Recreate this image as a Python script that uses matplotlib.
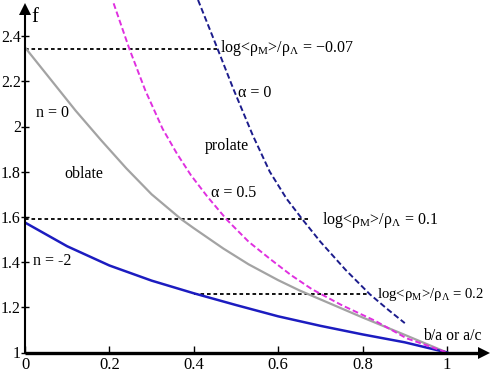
import matplotlib
matplotlib.use("Agg")
import matplotlib.pyplot as plt
from matplotlib.ticker import FuncFormatter, FixedLocator

plt.rcParams['font.family'] = ['Liberation Serif', 'DejaVu Serif']
plt.rcParams['mathtext.fontset'] = 'custom'
plt.rcParams['mathtext.rm'] = 'Liberation Serif'
plt.rcParams['mathtext.it'] = 'Liberation Serif:italic'

# ---- data ----
n0_x = [0, 0.06, 0.12, 0.18, 0.24, 0.30, 0.37, 0.40, 0.47, 0.53, 0.60, 0.65, 0.70, 0.80, 0.90, 1.0]
n0_y = [2.35, 2.21, 2.07, 1.94, 1.815, 1.70, 1.59, 1.55, 1.46, 1.39, 1.32, 1.275, 1.235, 1.155, 1.078, 1.0]

nm2_x = [0, 0.1, 0.2, 0.3, 0.4, 0.5, 0.6, 0.7, 0.8, 0.9, 1.0]
nm2_y = [1.575, 1.47, 1.385, 1.318, 1.262, 1.21, 1.16, 1.118, 1.08, 1.045, 1.0]

a05_x = [0.21, 0.247, 0.285, 0.326, 0.36, 0.393, 0.432, 0.479, 0.53, 0.58, 0.63, 0.68, 0.75, 0.83, 0.904, 1.0]
a05_y = [2.545, 2.345, 2.16, 1.99, 1.88, 1.785, 1.69, 1.586, 1.49, 1.415, 1.343, 1.28, 1.21, 1.14, 1.063, 1.0]

a0_x = [0.41, 0.455, 0.494, 0.54, 0.58, 0.62, 0.657, 0.70, 0.76, 0.817, 0.86, 0.90]
a0_y = [2.56, 2.35, 2.165, 1.96, 1.80, 1.68, 1.59, 1.49, 1.365, 1.258, 1.19, 1.13]

# horizontal reference lines: (y, x_start, x_end)
ref_y = [2.345, 1.59, 1.258]
ref_x0 = [0.0, 0.0, 0.40]
ref_x1 = [0.456, 0.67, 0.817]
ref_labels = ['log<ρ$_{\\mathrm{M}}$>/ρ$_{\\mathrm{Λ}}$ = −0.07',
              'log<ρ$_{\\mathrm{M}}$>/ρ$_{\\mathrm{Λ}}$ = 0.1',
              'log<ρ$_{\\mathrm{M}}$>/ρ$_{\\mathrm{Λ}}$ = 0.2']

xticks = [0, 0.2, 0.4, 0.6, 0.8, 1]
yticks = [1, 1.2, 1.4, 1.6, 1.8, 2, 2.2, 2.4]

W, H = 491, 382
fig = plt.figure(figsize=(W / 100, H / 100), dpi=100)
x0px, y0px = 25, 29.5
ax = fig.add_axes([x0px / W, y0px / H, (490 - x0px) / W, (380 - y0px) / H])
ax.set_xlim(0, (490 - x0px) / 422)
ax.set_ylim(1, 1 + (380 - y0px) / 226)

for s in ax.spines.values():
    s.set_visible(False)

# axes with arrows
ax.plot([0, 1.085], [1, 1], color='black', lw=2.4, clip_on=False, zorder=5, solid_capstyle='butt')
ax.plot([1.088], [1], marker='>', ms=9, color='black', clip_on=False, zorder=6, mew=0)
ax.plot([0, 0], [1, 2.51], color='black', lw=1.5, clip_on=False, zorder=5)
ax.plot([0], [2.52], marker='^', ms=9, color='black', clip_on=False, zorder=6, mew=0)

# reference dotted lines
for y, a, b in zip(ref_y, ref_x0, ref_x1):
    ax.plot([a, b], [y, y], color='black', lw=1.3, linestyle=(0, (2, 1.6)), zorder=3)

# curves
ax.plot(n0_x, n0_y, color='#a3a3a3', lw=1.6, zorder=4)
ax.plot(nm2_x, nm2_y, color='#1c1cc0', lw=1.8, zorder=4)
ax.plot(a05_x, a05_y, color='#e030e0', lw=1.4, linestyle=(0, (3, 1.5)), zorder=4, clip_on=False)
ax.plot(a0_x, a0_y, color='#1c1c8c', lw=1.4, linestyle=(0, (3, 1.5)), zorder=4, clip_on=False)

# ticks
ax.xaxis.set_major_locator(FixedLocator(xticks))
ax.yaxis.set_major_locator(FixedLocator(yticks))
fmt = FuncFormatter(lambda v, p: '%g' % v)
ax.xaxis.set_major_formatter(fmt)
ax.yaxis.set_major_formatter(fmt)
ax.tick_params(axis='x', direction='in', length=5, width=1, pad=3, labelsize=12)
ax.tick_params(axis='y', direction='inout', length=6, width=1, pad=0, labelsize=11.5)

fs = 11.5
ax.text(0.015, 2.462, 'f', fontsize=15, va='baseline')
ax.text(0.027, 2.042, 'n = 0', fontsize=fs, va='baseline')
ax.text(0.093, 1.772, 'oblate', fontsize=fs, va='baseline')
ax.text(0.426, 1.896, 'prolate', fontsize=fs, va='baseline')
ax.text(0.505, 2.132, 'α = 0', fontsize=fs, va='baseline')
ax.text(0.441, 1.689, 'α = 0.5', fontsize=fs, va='baseline')
ax.text(0.020, 1.387, 'n = -2', fontsize=fs, va='baseline')
ax.text(0.463, 2.33, ref_labels[0], fontsize=fs, va='baseline')
ax.text(0.703, 1.568, ref_labels[1], fontsize=fs, va='baseline')
ax.text(0.834, 1.241, ref_labels[2], fontsize=10.6, va='baseline', clip_on=False)
ax.text(0.944, 1.055, 'b/a or a/c', fontsize=11.3, va='baseline', clip_on=False)

fig.savefig('out.png', dpi=100)
